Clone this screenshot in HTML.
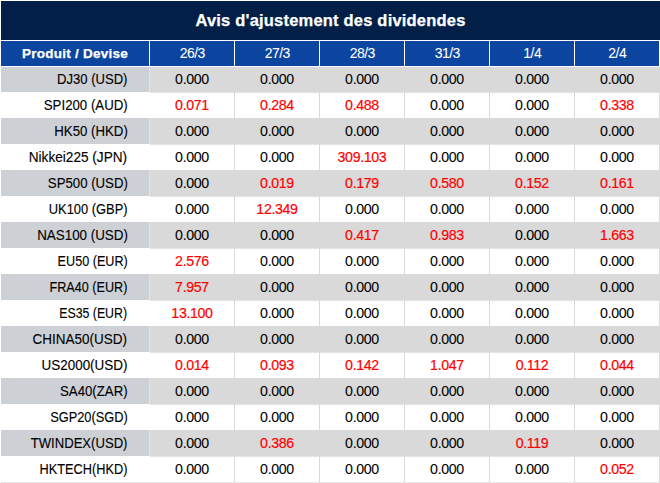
<!DOCTYPE html><html><head><meta charset="utf-8"><title>Avis d'ajustement des dividendes</title><style>
*{margin:0;padding:0;box-sizing:border-box}
html,body{width:660px;height:483px;background:#fff;overflow:hidden}
body{position:relative;font-family:"Liberation Sans",Arial,sans-serif;color:#000000;-webkit-text-stroke:0.06px currentColor}
div{position:absolute}
.t{left:1px;top:1px;width:659px;height:39px;background:#021f48;color:#fff;font-weight:bold;font-size:16.5px;letter-spacing:0.2px;text-align:center;line-height:39px;-webkit-text-stroke:0.25px #fff}
.h{top:41px;height:25px;background:#0b45a0;color:#fff;text-align:center;line-height:25px}
.h0{left:1px;width:148px;-webkit-text-stroke:0.25px #fff;font-weight:bold;font-size:13.5px;letter-spacing:0.25px}
.hd{font-size:14px;letter-spacing:-0.55px;text-indent:0.55px}
.g0{left:1px;width:148px;background:#cdd0d5}
.g{left:149px;width:511px;border-left:1px solid #e4e4e4;background:#d9d9d9}
.v{width:1px;background:#d9d9d9}
.n{left:1px;width:126.5px;-webkit-text-stroke:0.12px #000000;text-align:right;font-size:14px;white-space:nowrap}
.n span{display:inline-block;transform-origin:100% 50%}
.c{width:84px;text-align:center;font-size:14.2px;letter-spacing:-0.35px}
.r{color:#ff0000;-webkit-text-stroke:0.18px #ff0000}
.bl{left:1px;top:482px;width:659px;height:1px;background:#e6e6e6}
</style></head><body>
<div class="t">Avis d'ajustement des dividendes</div>
<div class="h h0">Produit / Devise</div>
<div class="h hd" style="left:150px;width:84px">26/3</div>
<div class="h hd" style="left:235px;width:84px">27/3</div>
<div class="h hd" style="left:320px;width:84px">28/3</div>
<div class="h hd" style="left:405px;width:84px">31/3</div>
<div class="h hd" style="left:490px;width:84px">1/4</div>
<div class="h hd" style="left:575px;width:84px">2/4</div>
<div class="g0" style="top:67px;height:25px"></div><div class="g" style="top:67px;height:25px"></div>
<div class="n" style="top:67px;height:25px;line-height:25px"><span style="transform:scaleX(0.9333)">DJ30 (USD)</span></div>
<div class="c" style="left:150px;top:67px;height:25px;line-height:25px">0.000</div>
<div class="c" style="left:235px;top:67px;height:25px;line-height:25px">0.000</div>
<div class="c" style="left:320px;top:67px;height:25px;line-height:25px">0.000</div>
<div class="c" style="left:405px;top:67px;height:25px;line-height:25px">0.000</div>
<div class="c" style="left:490px;top:67px;height:25px;line-height:25px">0.000</div>
<div class="c" style="left:575px;top:67px;height:25px;line-height:25px">0.000</div>
<div style="left:150px;top:92px;width:510px;height:1px;background:#e2e2e2"></div>
<div class="v" style="left:234px;top:92px;height:26px"></div>
<div class="v" style="left:319px;top:92px;height:26px"></div>
<div class="v" style="left:404px;top:92px;height:26px"></div>
<div class="v" style="left:489px;top:92px;height:26px"></div>
<div class="v" style="left:574px;top:92px;height:26px"></div>
<div class="v" style="left:659px;top:92px;height:26px"></div>
<div class="n" style="top:93px;height:25px;line-height:25px"><span style="transform:scaleX(0.9461)">SPI200 (AUD)</span></div>
<div class="c r" style="left:150px;top:93px;height:25px;line-height:25px">0.071</div>
<div class="c r" style="left:235px;top:93px;height:25px;line-height:25px">0.284</div>
<div class="c r" style="left:320px;top:93px;height:25px;line-height:25px">0.488</div>
<div class="c" style="left:405px;top:93px;height:25px;line-height:25px">0.000</div>
<div class="c" style="left:490px;top:93px;height:25px;line-height:25px">0.000</div>
<div class="c r" style="left:575px;top:93px;height:25px;line-height:25px">0.338</div>
<div class="g0" style="top:118px;height:26px"></div><div class="g" style="top:118px;height:26px"></div>
<div class="n" style="top:119px;height:25px;line-height:25px"><span style="transform:scaleX(0.9455)">HK50 (HKD)</span></div>
<div class="c" style="left:150px;top:119px;height:25px;line-height:25px">0.000</div>
<div class="c" style="left:235px;top:119px;height:25px;line-height:25px">0.000</div>
<div class="c" style="left:320px;top:119px;height:25px;line-height:25px">0.000</div>
<div class="c" style="left:405px;top:119px;height:25px;line-height:25px">0.000</div>
<div class="c" style="left:490px;top:119px;height:25px;line-height:25px">0.000</div>
<div class="c" style="left:575px;top:119px;height:25px;line-height:25px">0.000</div>
<div style="left:150px;top:144px;width:510px;height:1px;background:#e2e2e2"></div>
<div class="v" style="left:234px;top:144px;height:26px"></div>
<div class="v" style="left:319px;top:144px;height:26px"></div>
<div class="v" style="left:404px;top:144px;height:26px"></div>
<div class="v" style="left:489px;top:144px;height:26px"></div>
<div class="v" style="left:574px;top:144px;height:26px"></div>
<div class="v" style="left:659px;top:144px;height:26px"></div>
<div class="n" style="top:145px;height:25px;line-height:25px"><span style="transform:scaleX(0.9733)">Nikkei225 (JPN)</span></div>
<div class="c" style="left:150px;top:145px;height:25px;line-height:25px">0.000</div>
<div class="c" style="left:235px;top:145px;height:25px;line-height:25px">0.000</div>
<div class="c r" style="left:320px;top:145px;height:25px;line-height:25px">309.103</div>
<div class="c" style="left:405px;top:145px;height:25px;line-height:25px">0.000</div>
<div class="c" style="left:490px;top:145px;height:25px;line-height:25px">0.000</div>
<div class="c" style="left:575px;top:145px;height:25px;line-height:25px">0.000</div>
<div class="g0" style="top:170px;height:26px"></div><div class="g" style="top:170px;height:26px"></div>
<div class="n" style="top:171px;height:25px;line-height:25px"><span style="transform:scaleX(0.9429)">SP500 (USD)</span></div>
<div class="c" style="left:150px;top:171px;height:25px;line-height:25px">0.000</div>
<div class="c r" style="left:235px;top:171px;height:25px;line-height:25px">0.019</div>
<div class="c r" style="left:320px;top:171px;height:25px;line-height:25px">0.179</div>
<div class="c r" style="left:405px;top:171px;height:25px;line-height:25px">0.580</div>
<div class="c r" style="left:490px;top:171px;height:25px;line-height:25px">0.152</div>
<div class="c r" style="left:575px;top:171px;height:25px;line-height:25px">0.161</div>
<div style="left:150px;top:196px;width:510px;height:1px;background:#e2e2e2"></div>
<div class="v" style="left:234px;top:196px;height:26px"></div>
<div class="v" style="left:319px;top:196px;height:26px"></div>
<div class="v" style="left:404px;top:196px;height:26px"></div>
<div class="v" style="left:489px;top:196px;height:26px"></div>
<div class="v" style="left:574px;top:196px;height:26px"></div>
<div class="v" style="left:659px;top:196px;height:26px"></div>
<div class="n" style="top:197px;height:25px;line-height:25px"><span style="transform:scaleX(0.9212)">UK100 (GBP)</span></div>
<div class="c" style="left:150px;top:197px;height:25px;line-height:25px">0.000</div>
<div class="c r" style="left:235px;top:197px;height:25px;line-height:25px">12.349</div>
<div class="c" style="left:320px;top:197px;height:25px;line-height:25px">0.000</div>
<div class="c" style="left:405px;top:197px;height:25px;line-height:25px">0.000</div>
<div class="c" style="left:490px;top:197px;height:25px;line-height:25px">0.000</div>
<div class="c" style="left:575px;top:197px;height:25px;line-height:25px">0.000</div>
<div class="g0" style="top:222px;height:26px"></div><div class="g" style="top:222px;height:26px"></div>
<div class="n" style="top:223px;height:25px;line-height:25px"><span style="transform:scaleX(0.9558)">NAS100 (USD)</span></div>
<div class="c" style="left:150px;top:223px;height:25px;line-height:25px">0.000</div>
<div class="c" style="left:235px;top:223px;height:25px;line-height:25px">0.000</div>
<div class="c r" style="left:320px;top:223px;height:25px;line-height:25px">0.417</div>
<div class="c r" style="left:405px;top:223px;height:25px;line-height:25px">0.983</div>
<div class="c" style="left:490px;top:223px;height:25px;line-height:25px">0.000</div>
<div class="c r" style="left:575px;top:223px;height:25px;line-height:25px">1.663</div>
<div style="left:150px;top:248px;width:510px;height:1px;background:#e2e2e2"></div>
<div class="v" style="left:234px;top:248px;height:26px"></div>
<div class="v" style="left:319px;top:248px;height:26px"></div>
<div class="v" style="left:404px;top:248px;height:26px"></div>
<div class="v" style="left:489px;top:248px;height:26px"></div>
<div class="v" style="left:574px;top:248px;height:26px"></div>
<div class="v" style="left:659px;top:248px;height:26px"></div>
<div class="n" style="top:249px;height:25px;line-height:25px"><span style="transform:scaleX(0.9026)">EU50 (EUR)</span></div>
<div class="c r" style="left:150px;top:249px;height:25px;line-height:25px">2.576</div>
<div class="c" style="left:235px;top:249px;height:25px;line-height:25px">0.000</div>
<div class="c" style="left:320px;top:249px;height:25px;line-height:25px">0.000</div>
<div class="c" style="left:405px;top:249px;height:25px;line-height:25px">0.000</div>
<div class="c" style="left:490px;top:249px;height:25px;line-height:25px">0.000</div>
<div class="c" style="left:575px;top:249px;height:25px;line-height:25px">0.000</div>
<div class="g0" style="top:274px;height:26px"></div><div class="g" style="top:274px;height:26px"></div>
<div class="n" style="top:275px;height:25px;line-height:25px"><span style="transform:scaleX(0.9012)">FRA40 (EUR)</span></div>
<div class="c r" style="left:150px;top:275px;height:25px;line-height:25px">7.957</div>
<div class="c" style="left:235px;top:275px;height:25px;line-height:25px">0.000</div>
<div class="c" style="left:320px;top:275px;height:25px;line-height:25px">0.000</div>
<div class="c" style="left:405px;top:275px;height:25px;line-height:25px">0.000</div>
<div class="c" style="left:490px;top:275px;height:25px;line-height:25px">0.000</div>
<div class="c" style="left:575px;top:275px;height:25px;line-height:25px">0.000</div>
<div style="left:150px;top:300px;width:510px;height:1px;background:#e2e2e2"></div>
<div class="v" style="left:234px;top:300px;height:26px"></div>
<div class="v" style="left:319px;top:300px;height:26px"></div>
<div class="v" style="left:404px;top:300px;height:26px"></div>
<div class="v" style="left:489px;top:300px;height:26px"></div>
<div class="v" style="left:574px;top:300px;height:26px"></div>
<div class="v" style="left:659px;top:300px;height:26px"></div>
<div class="n" style="top:301px;height:25px;line-height:25px"><span style="transform:scaleX(0.8805)">ES35 (EUR)</span></div>
<div class="c r" style="left:150px;top:301px;height:25px;line-height:25px">13.100</div>
<div class="c" style="left:235px;top:301px;height:25px;line-height:25px">0.000</div>
<div class="c" style="left:320px;top:301px;height:25px;line-height:25px">0.000</div>
<div class="c" style="left:405px;top:301px;height:25px;line-height:25px">0.000</div>
<div class="c" style="left:490px;top:301px;height:25px;line-height:25px">0.000</div>
<div class="c" style="left:575px;top:301px;height:25px;line-height:25px">0.000</div>
<div class="g0" style="top:326px;height:26px"></div><div class="g" style="top:326px;height:26px"></div>
<div class="n" style="top:327px;height:25px;line-height:25px"><span style="transform:scaleX(0.9643)">CHINA50(USD)</span></div>
<div class="c" style="left:150px;top:327px;height:25px;line-height:25px">0.000</div>
<div class="c" style="left:235px;top:327px;height:25px;line-height:25px">0.000</div>
<div class="c" style="left:320px;top:327px;height:25px;line-height:25px">0.000</div>
<div class="c" style="left:405px;top:327px;height:25px;line-height:25px">0.000</div>
<div class="c" style="left:490px;top:327px;height:25px;line-height:25px">0.000</div>
<div class="c" style="left:575px;top:327px;height:25px;line-height:25px">0.000</div>
<div style="left:150px;top:352px;width:510px;height:1px;background:#e2e2e2"></div>
<div class="v" style="left:234px;top:352px;height:26px"></div>
<div class="v" style="left:319px;top:352px;height:26px"></div>
<div class="v" style="left:404px;top:352px;height:26px"></div>
<div class="v" style="left:489px;top:352px;height:26px"></div>
<div class="v" style="left:574px;top:352px;height:26px"></div>
<div class="v" style="left:659px;top:352px;height:26px"></div>
<div class="n" style="top:353px;height:25px;line-height:25px"><span style="transform:scaleX(0.9607)">US2000(USD)</span></div>
<div class="c r" style="left:150px;top:353px;height:25px;line-height:25px">0.014</div>
<div class="c r" style="left:235px;top:353px;height:25px;line-height:25px">0.093</div>
<div class="c r" style="left:320px;top:353px;height:25px;line-height:25px">0.142</div>
<div class="c r" style="left:405px;top:353px;height:25px;line-height:25px">1.047</div>
<div class="c r" style="left:490px;top:353px;height:25px;line-height:25px">0.112</div>
<div class="c r" style="left:575px;top:353px;height:25px;line-height:25px">0.044</div>
<div class="g0" style="top:378px;height:26px"></div><div class="g" style="top:378px;height:26px"></div>
<div class="n" style="top:379px;height:25px;line-height:25px"><span style="transform:scaleX(0.9437)">SA40(ZAR)</span></div>
<div class="c" style="left:150px;top:379px;height:25px;line-height:25px">0.000</div>
<div class="c" style="left:235px;top:379px;height:25px;line-height:25px">0.000</div>
<div class="c" style="left:320px;top:379px;height:25px;line-height:25px">0.000</div>
<div class="c" style="left:405px;top:379px;height:25px;line-height:25px">0.000</div>
<div class="c" style="left:490px;top:379px;height:25px;line-height:25px">0.000</div>
<div class="c" style="left:575px;top:379px;height:25px;line-height:25px">0.000</div>
<div style="left:150px;top:404px;width:510px;height:1px;background:#e2e2e2"></div>
<div class="v" style="left:234px;top:404px;height:26px"></div>
<div class="v" style="left:319px;top:404px;height:26px"></div>
<div class="v" style="left:404px;top:404px;height:26px"></div>
<div class="v" style="left:489px;top:404px;height:26px"></div>
<div class="v" style="left:574px;top:404px;height:26px"></div>
<div class="v" style="left:659px;top:404px;height:26px"></div>
<div class="n" style="top:405px;height:25px;line-height:25px"><span style="transform:scaleX(0.9153)">SGP20(SGD)</span></div>
<div class="c" style="left:150px;top:405px;height:25px;line-height:25px">0.000</div>
<div class="c" style="left:235px;top:405px;height:25px;line-height:25px">0.000</div>
<div class="c" style="left:320px;top:405px;height:25px;line-height:25px">0.000</div>
<div class="c" style="left:405px;top:405px;height:25px;line-height:25px">0.000</div>
<div class="c" style="left:490px;top:405px;height:25px;line-height:25px">0.000</div>
<div class="c" style="left:575px;top:405px;height:25px;line-height:25px">0.000</div>
<div class="g0" style="top:430px;height:26px"></div><div class="g" style="top:430px;height:26px"></div>
<div class="n" style="top:431px;height:25px;line-height:25px"><span style="transform:scaleX(0.9346)">TWINDEX(USD)</span></div>
<div class="c" style="left:150px;top:431px;height:25px;line-height:25px">0.000</div>
<div class="c r" style="left:235px;top:431px;height:25px;line-height:25px">0.386</div>
<div class="c" style="left:320px;top:431px;height:25px;line-height:25px">0.000</div>
<div class="c" style="left:405px;top:431px;height:25px;line-height:25px">0.000</div>
<div class="c r" style="left:490px;top:431px;height:25px;line-height:25px">0.119</div>
<div class="c" style="left:575px;top:431px;height:25px;line-height:25px">0.000</div>
<div style="left:150px;top:456px;width:510px;height:1px;background:#e2e2e2"></div>
<div class="v" style="left:234px;top:456px;height:26px"></div>
<div class="v" style="left:319px;top:456px;height:26px"></div>
<div class="v" style="left:404px;top:456px;height:26px"></div>
<div class="v" style="left:489px;top:456px;height:26px"></div>
<div class="v" style="left:574px;top:456px;height:26px"></div>
<div class="v" style="left:659px;top:456px;height:26px"></div>
<div class="n" style="top:457px;height:25px;line-height:25px"><span style="transform:scaleX(0.9115)">HKTECH(HKD)</span></div>
<div class="c" style="left:150px;top:457px;height:25px;line-height:25px">0.000</div>
<div class="c" style="left:235px;top:457px;height:25px;line-height:25px">0.000</div>
<div class="c" style="left:320px;top:457px;height:25px;line-height:25px">0.000</div>
<div class="c" style="left:405px;top:457px;height:25px;line-height:25px">0.000</div>
<div class="c" style="left:490px;top:457px;height:25px;line-height:25px">0.000</div>
<div class="c r" style="left:575px;top:457px;height:25px;line-height:25px">0.052</div>
<div class="bl"></div>
</body></html>
